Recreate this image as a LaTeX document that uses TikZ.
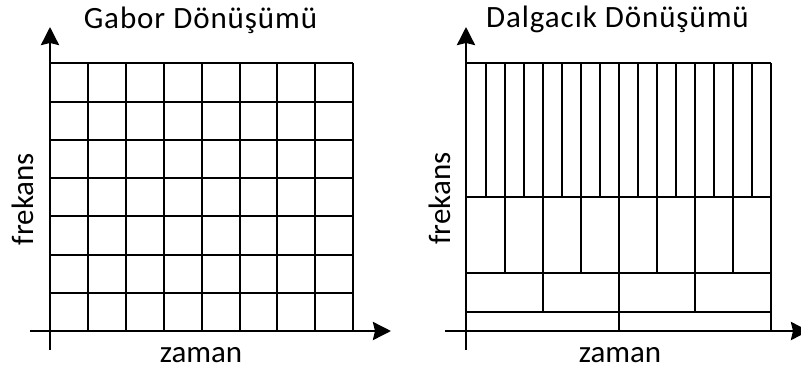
\documentclass[tikz,border=0pt]{standalone}
\usepackage{fontspec}
\setmainfont{Carlito}
\usetikzlibrary{arrows.meta}
\begin{document}
\begin{tikzpicture}[x=1pt,y=-1pt,
  gridline/.style={line width=1.2pt, black},
  axis/.style={line width=2.7pt, -{Stealth[length=18pt,width=18pt,inset=2pt]}},
  lbl/.style={font=\fontsize{31}{36}\selectfont, anchor=base, inner sep=0pt},
  ttl/.style={lbl, font=\fontsize{31}{36}\selectfont\addfontfeatures{LetterSpace=3}}]
\useasboundingbox (0,0) rectangle (801,372);

% ---------- Gabor transform: uniform tiling ----------
\foreach \x in {88,126,164,202,240,277,315,353}
  \draw[gridline] (\x,63) -- (\x,331);
\foreach \y in {63,102,140,178,216,255,293}
  \draw[gridline] (50,\y) -- (353,\y);

\coordinate (gYbot) at (50,350);
\coordinate (gYtop) at (50,27);
\coordinate (gXl)   at (30,331);
\coordinate (gXr)   at (391,331);
\draw[axis] (gYbot) -- (gYtop);
\draw[axis] (gXl) -- (gXr);

\node[ttl] (gTitle) at (200.5,28) {Gabor Dönüşümü};
\node[lbl] (gTime)  at (201,362) {zaman};
\node[lbl, rotate=90] (gFreq) at (33,199) {frekans};

% ---------- Wavelet transform: dyadic tiling ----------
% horizontal band borders
\foreach \y in {63,197,273,312}
  \draw[gridline] (467,\y) -- (771,\y);
\draw[gridline] (771,63) -- (771,331);
% highest band: 16 cells
\foreach \k in {1,...,15}
  \draw[gridline] ({467+19*\k},63) -- ({467+19*\k},197);
% second band: 8 cells
\foreach \k in {1,...,7}
  \draw[gridline] ({467+38*\k},197) -- ({467+38*\k},273);
% third band: 4 cells
\foreach \k in {1,...,3}
  \draw[gridline] ({467+76*\k},273) -- ({467+76*\k},312);
% lowest band: 2 cells
\draw[gridline] (619,312) -- (619,331);

\coordinate (wYbot) at (466,350);
\coordinate (wYtop) at (466,27);
\coordinate (wXl)   at (445,331);
\coordinate (wXr)   at (809,331);
\draw[axis] (wYbot) -- (wYtop);
\draw[axis] (wXl) -- (wXr);

\node[ttl] (wTitle) at (617.5,27.5) {Dalgacık Dönüşümü};
\node[lbl] (wTime)  at (620,362.5) {zaman};
\node[lbl, rotate=90] (wFreq) at (450,198.5) {frekans};
\end{tikzpicture}
\end{document}
